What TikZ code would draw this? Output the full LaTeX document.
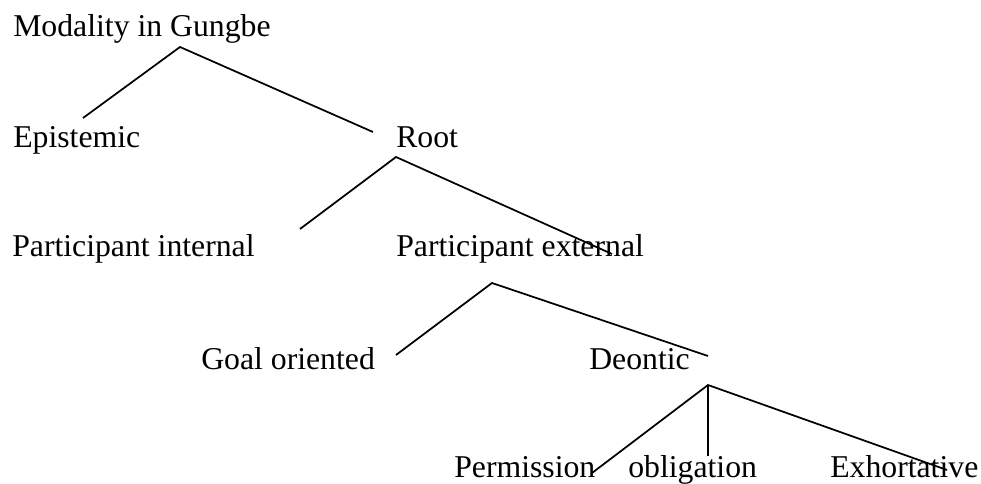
\documentclass[tikz,border=0pt]{standalone}
\usepackage{fontspec}
\setmainfont{Liberation Serif}
\tikzstyle{cat} = [anchor=base west, inner sep=0pt, font=\fontsize{23.8}{28}\selectfont]
\tikzstyle{branch} = [line width=1.3pt]

\begin{document}
\begin{tikzpicture}[x=0.75pt, y=-0.75pt]
			\useasboundingbox (0,0) rectangle (981,484);
			\node [cat] (modality) at (13,37) {Modality in Gungbe};
			\node [cat] (epistemic) at (13,148) {Epistemic};
			\node [cat] (root) at (396,148) {Root};
			\node [cat] (pint) at (12,257) {Participant internal};
			\node [cat] (pext) at (396,257) {Participant external};
			\node [cat] (goal) at (201,369) {Goal oriented};
			\node [cat] (deontic) at (589,369) {Deontic};
			\node [cat] (permission) at (454,477) {Permission};
			\node [cat] (obligation) at (628,477) {obligation};
			\node [cat] (exhortative) at (830,477) {Exhortative};
			\coordinate (modtop) at (180,47);
			\coordinate (episend) at (83,118);
			\coordinate (rootend) at (373,132);
			\coordinate (roottop) at (396,157);
			\coordinate (pintend) at (300,229);
			\coordinate (pextend) at (612,254);
			\coordinate (pexttop) at (492,283);
			\coordinate (goalend) at (396,355);
			\coordinate (deonend) at (708,356);
			\coordinate (deontop) at (708,385);
			\coordinate (permend) at (592,473);
			\coordinate (obliend) at (708,456);
			\coordinate (exhoend) at (947,470);
			\draw [branch] (episend) -- (modtop) -- (rootend);
			\draw [branch] (pintend) -- (roottop) -- (pextend);
			\draw [branch] (goalend) -- (pexttop) -- (deonend);
			\draw [branch] (permend) -- (deontop) -- (exhoend);
			\draw [branch] (deontop) -- (obliend);
		\end{tikzpicture}
\end{document}
